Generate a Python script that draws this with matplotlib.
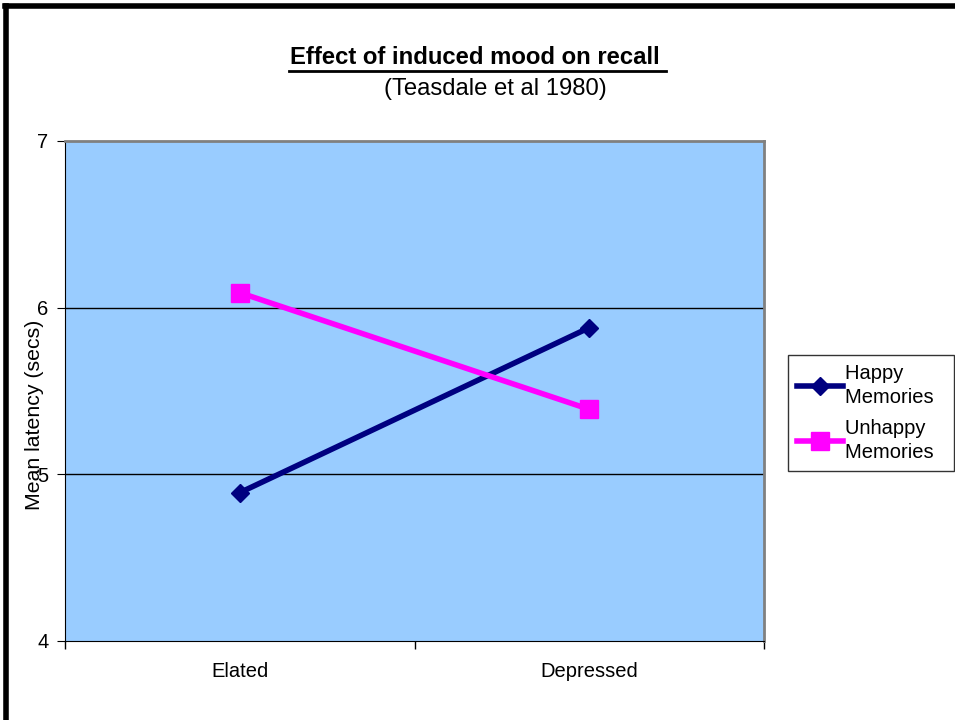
import matplotlib.pyplot as plt
from matplotlib.lines import Line2D

plt.rcParams['font.family'] = ['Liberation Sans', 'DejaVu Sans']

# data
moods = ['Elated', 'Depressed']
happy = [4.89, 5.88]
unhappy = [6.09, 5.39]

fig = plt.figure(figsize=(9.55, 7.2), dpi=100)
ax = fig.add_axes([65/955, 1 - 641/720, 699/955, 500/720])
ax.set_facecolor('#99ccff')

x = range(len(moods))
ax.plot(x, happy, color='#000080', lw=4, marker='D', ms=9, label='Happy\nMemories', zorder=3)
ax.plot(x, unhappy, color='#ff00ff', lw=4, marker='s', ms=13, label='Unhappy\nMemories', zorder=3)

ax.set_xlim(-0.5, 1.5)
ax.set_ylim(4, 7)
ax.set_yticks([4, 5, 6, 7])
ax.set_xticks([-0.5, 0.5, 1.5])
ax.set_xticklabels([])
ax.set_xticks(list(x), minor=True)
ax.set_xticklabels(moods, minor=True)
ax.tick_params(axis='x', which='minor', length=0, pad=15, labelsize=14.5)
ax.tick_params(axis='x', which='major', length=6, direction='out', width=1)
ax.tick_params(axis='y', length=6, direction='out', labelsize=14.5, pad=6)
for yv in [5, 6]:
    ax.axhline(yv, color='black', lw=1, zorder=1)

ax.spines['top'].set_color('#808080')
ax.spines['right'].set_color('#808080')
ax.spines['top'].set_linewidth(2)
ax.spines['right'].set_linewidth(2)

# y label sits over the "5" tick label, as in the original
fig.text(35/955, 1 - 415/720, 'Mean latency (secs)', rotation=90, ha='center', va='center',
         fontsize=15.3)

fig.text(0.5003, 1 - 58/720, 'Effect of induced mood on recall ', ha='center', va='center',
         fontsize=17.2, fontweight='bold')
fig.add_artist(Line2D([289/955, 666/955], [1 - 71/720, 1 - 71/720], color='black', lw=2))
fig.text(495/955, 1 - 89/720, '(Teasdale et al 1980)', ha='center', va='center', fontsize=17.2)

leg = ax.legend(loc='center left', bbox_to_anchor=(778/955, 1 - 413/720),
                bbox_transform=fig.transFigure, fontsize=14.5, frameon=True,
                fancybox=False, edgecolor='black', handlelength=2.3,
                handletextpad=0.1, borderpad=0.45, labelspacing=0.6)
leg.get_frame().set_linewidth(1)
for t in leg.get_texts():
    t.set_linespacing(1.3)
    t.set_text(t.get_text().replace('\n', '  \n') + '  ')

# outer frame of the slide
fig.add_artist(Line2D([5/955, 1], [1 - 6/720, 1 - 6/720], color='black', lw=4))
fig.add_artist(Line2D([6/955, 6/955], [0, 1 - 6/720], color='black', lw=4))

fig.savefig('out.png', dpi=100)
